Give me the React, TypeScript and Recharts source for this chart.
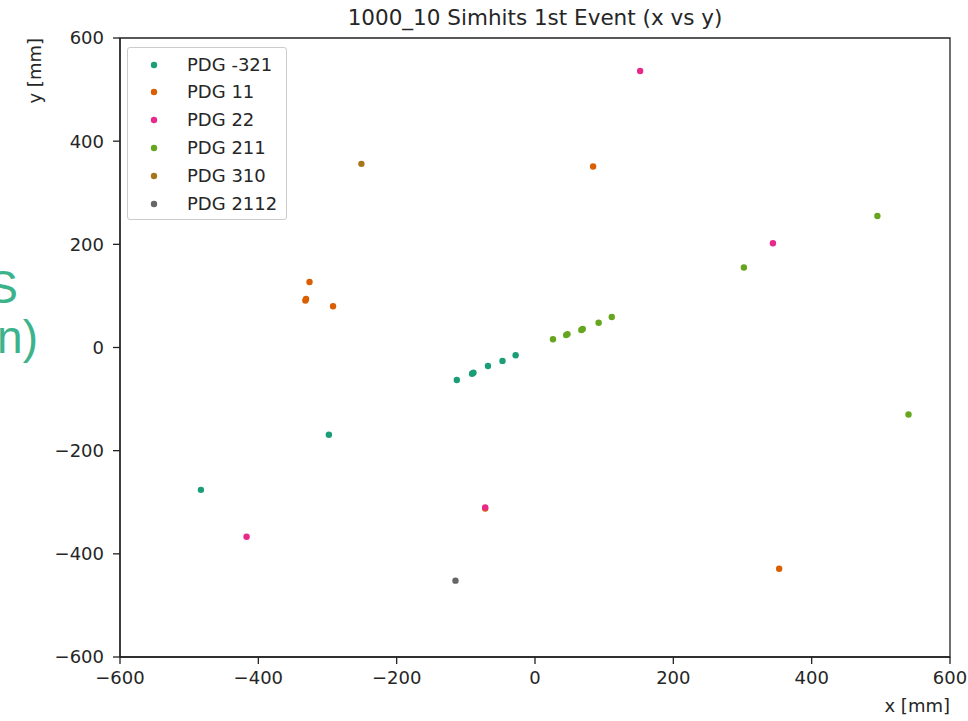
import React from "react";
import {
  ScatterChart,
  Scatter,
  XAxis,
  YAxis,
  ReferenceArea,
} from "recharts";

const seriesNames = ["PDG -321", "PDG 11", "PDG 22", "PDG 211", "PDG 310", "PDG 2112"];
const seriesColors = ["#1b9e77", "#d95f02", "#e7298a", "#66a61e", "#a6761d", "#666666"];

const pdgM321X = [-113, -91, -89, -68, -47, -28, -298, -483];
const pdgM321Y = [-63, -51, -49, -36, -26, -15, -169, -276];

const pdg11X = [-326, -332, -331, -292, 84, 353, -72];
const pdg11Y = [127, 91, 94, 80, 351, -429, -312];

const pdg22X = [152, 344, -417, -72];
const pdg22Y = [536, 202, -367, -310];

const pdg211X = [26, 45, 47, 67, 69, 92, 111, 302, 495, 540];
const pdg211Y = [16, 24, 26, 34, 36, 48, 59, 155, 255, -130];

const pdg310X = [-251];
const pdg310Y = [356];

const pdg2112X = [-115];
const pdg2112Y = [-452];

const axisTicks = [-600, -400, -200, 0, 200, 400, 600];

const titleText = "1000_10 Simhits 1st Event (x vs y)";
const xLabel = "x [mm]";
const yLabel = "y [mm]";
const sideLines = ["S", "n)"];

const allX = [pdgM321X, pdg11X, pdg22X, pdg211X, pdg310X, pdg2112X];
const allY = [pdgM321Y, pdg11Y, pdg22Y, pdg211Y, pdg310Y, pdg2112Y];

const seriesData = allX.map((xs, i) => xs.map((x, j) => ({ x, y: allY[i][j] })));

const FONT = "'DejaVu Sans', sans-serif";
const TEXT = "#262626";

const fmt = (v: number) => (v < 0 ? "\u2212" + Math.abs(v) : String(v));

const makeDot = (color: string) => (props: any) => {
  const { cx, cy } = props;
  if (cx == null || cy == null) return <g />;
  return <circle cx={cx} cy={cy} r={3.2} fill={color} />;
};

const LegendBox = () => (
  <div
    style={{
      position: "absolute",
      left: 127,
      top: 47,
      width: 160,
      height: 173,
      border: "1px solid #cccccc",
      borderRadius: 3,
      background: "rgba(255,255,255,0.8)",
      boxSizing: "border-box",
      fontFamily: FONT,
      fontSize: 18,
      color: TEXT,
    }}
  >
    {seriesNames.map((n, i) => (
      <div
        key={n}
        style={{
          position: "absolute",
          left: 0,
          top: 16.5 + i * 27.8 - 11,
          height: 22,
          lineHeight: "22px",
          whiteSpace: "nowrap",
        }}
      >
        <svg width={30} height={22} style={{ position: "absolute", left: 20, top: 0 }}>
          <circle cx={6} cy={11} r={3.2} fill={seriesColors[i]} />
        </svg>
        <span style={{ position: "absolute", left: 59, top: 0 }}>{n}</span>
      </div>
    ))}
  </div>
);

export default function App() {
  return (
    <div style={{ position: "absolute", left: 0, top: 0, width: 968, height: 721, background: "#fff" }}>
      <svg
        width={60}
        height={721}
        style={{ position: "absolute", left: 0, top: 0 }}
      >
        <text x={18} y={303} textAnchor="end" fontFamily="'Liberation Sans', Arial, sans-serif" fontSize={46} fill="#3db38c">
          {sideLines[0]}
        </text>
        <text x={38} y={353} textAnchor="end" fontFamily="'Liberation Sans', Arial, sans-serif" fontSize={46} fill="#3db38c">
          {sideLines[1]}
        </text>
      </svg>
      <div style={{ position: "absolute", left: 0, top: 0 }}>
        <ScatterChart
          width={968}
          height={721}
          margin={{ top: 38, right: 18, bottom: 24, left: 20 }}
        >
          <XAxis
            type="number"
            dataKey="x"
            domain={[-600, 600]}
            ticks={axisTicks}
            tickFormatter={fmt}
            allowDataOverflow
            height={40}
            tickSize={7}
            tickMargin={7}
            axisLine={{ stroke: "#222", strokeWidth: 1.3 }}
            tickLine={{ stroke: "#222", strokeWidth: 1.3 }}
            tick={{ fill: TEXT, fontFamily: FONT, fontSize: 18 }}
          />
          <YAxis
            type="number"
            dataKey="y"
            domain={[-600, 600]}
            ticks={axisTicks}
            tickFormatter={fmt}
            allowDataOverflow
            width={100}
            tickSize={7}
            tickMargin={9}
            axisLine={{ stroke: "#222", strokeWidth: 1.3 }}
            tickLine={{ stroke: "#222", strokeWidth: 1.3 }}
            tick={{ fill: TEXT, fontFamily: FONT, fontSize: 18 }}
          />
          <ReferenceArea
            x1={-600}
            x2={600}
            y1={-600}
            y2={600}
            fill="none"
            stroke="#222"
            strokeWidth={1.3}
            ifOverflow="visible"
          />
          {seriesData.map((d, i) => (
            <Scatter
              key={seriesNames[i]}
              name={seriesNames[i]}
              data={d}
              fill={seriesColors[i]}
              shape={makeDot(seriesColors[i])}
              isAnimationActive={false}
            />
          ))}
          <text x={535} y={25} textAnchor="middle" fontFamily={FONT} fontSize={21.5} fill={TEXT}>
            {titleText}
          </text>
          <text x={950} y={712} textAnchor="end" fontFamily={FONT} fontSize={18} fill={TEXT}>
            {xLabel}
          </text>
          <text
            x={41}
            y={38}
            textAnchor="end"
            fontFamily={FONT}
            fontSize={18}
            fill={TEXT}
            transform="rotate(-90, 41, 38)"
          >
            {yLabel}
          </text>
        </ScatterChart>
      </div>
      <LegendBox />
    </div>
  );
}
